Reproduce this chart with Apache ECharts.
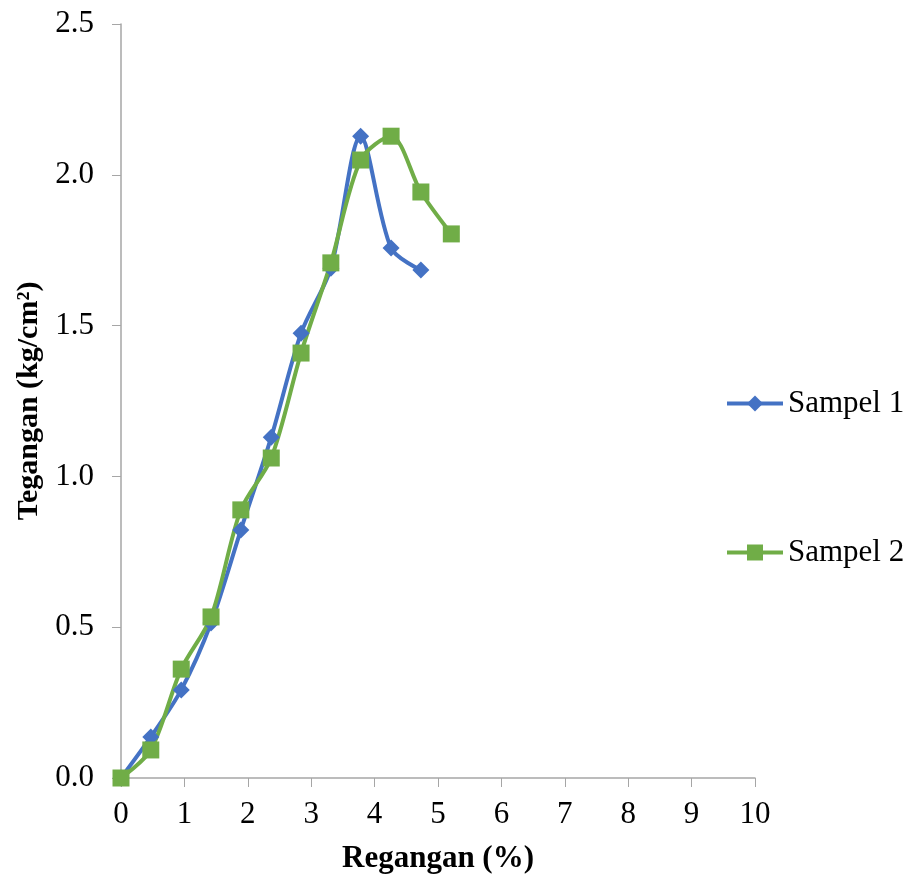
<!DOCTYPE html>
<html><head><meta charset="utf-8">
<script src="https://cdn.jsdelivr.net/npm/echarts@6/dist/echarts.min.js"></script>
<style>html,body{margin:0;padding:0;background:#fff}#c{width:908px;height:879px}</style>
</head><body><div id="c"></div>
<script>
var seriesNames = ['Sampel 1', 'Sampel 2'];
var s1x = [0, 0.47, 0.95, 1.42, 1.89, 2.37, 2.84, 3.31, 3.78, 4.26, 4.73];
var s1y = [0, 0.136, 0.292, 0.514, 0.822, 1.13, 1.475, 1.69, 2.128, 1.757, 1.684];
var s2x = [0, 0.47, 0.95, 1.42, 1.89, 2.37, 2.84, 3.31, 3.78, 4.26, 4.73, 5.21];
var s2y = [0, 0.093, 0.361, 0.534, 0.889, 1.061, 1.409, 1.708, 2.049, 2.128, 1.943, 1.804];
var xTitle = 'Regangan (%)';
var yTitle = 'Tegangan (kg/cm²)';
function zip(a, b) { return a.map(function (v, i) { return [v, b[i]]; }); }
var font = 'Liberation Serif';
var legendCommon = {
  orient: 'vertical', left: 725, padding: 0, itemWidth: 56, itemHeight: 20, itemGap: 0,
  lineStyle: { width: 4 },
  textStyle: { fontFamily: font, fontSize: 31, color: '#000' }
};
var chart = echarts.init(document.getElementById('c'));
chart.setOption({
  animation: false,
  backgroundColor: '#fff',
  grid: { left: 121, right: 153, top: 24, bottom: 101 },
  legend: [
    Object.assign({}, legendCommon, { top: 388, data: [seriesNames[0]] }),
    Object.assign({}, legendCommon, { top: 537, data: [seriesNames[1]] })
  ],
  xAxis: {
    type: 'value', min: 0, max: 10, interval: 1,
    name: xTitle, nameLocation: 'middle', nameGap: 65,
    nameTextStyle: { fontFamily: font, fontSize: 31, fontWeight: 'bold', color: '#000' },
    axisLine: { lineStyle: { color: '#a6a6a6', width: 1.5 } },
    axisTick: { show: true, length: 9, lineStyle: { color: '#a6a6a6' } },
    axisLabel: { fontFamily: font, fontSize: 31, color: '#000', margin: 21 },
    splitLine: { show: false }
  },
  yAxis: {
    type: 'value', min: 0, max: 2.5, interval: 0.5,
    name: yTitle, nameLocation: 'middle', nameGap: 75, nameRotate: 90,
    nameTextStyle: { fontFamily: font, fontSize: 30, fontWeight: 'bold', color: '#000' },
    axisLine: { show: true, lineStyle: { color: '#a6a6a6', width: 1.5 } },
    axisTick: { show: true, length: 9, lineStyle: { color: '#a6a6a6' } },
    axisLabel: { fontFamily: font, fontSize: 31, color: '#000', margin: 27,
      formatter: function (v) { return v.toFixed(1); } },
    splitLine: { show: false }
  },
  series: [
    { name: seriesNames[0], type: 'line', data: zip(s1x, s1y), smooth: 0.3,
      symbol: 'diamond', symbolSize: 17,
      itemStyle: { color: '#4472C4' }, lineStyle: { color: '#4472C4', width: 4 } },
    { name: seriesNames[1], type: 'line', data: zip(s2x, s2y), smooth: 0.3,
      symbol: 'rect', symbolSize: 17,
      itemStyle: { color: '#70AD47' }, lineStyle: { color: '#70AD47', width: 4 } }
  ]
});
</script></body></html>
